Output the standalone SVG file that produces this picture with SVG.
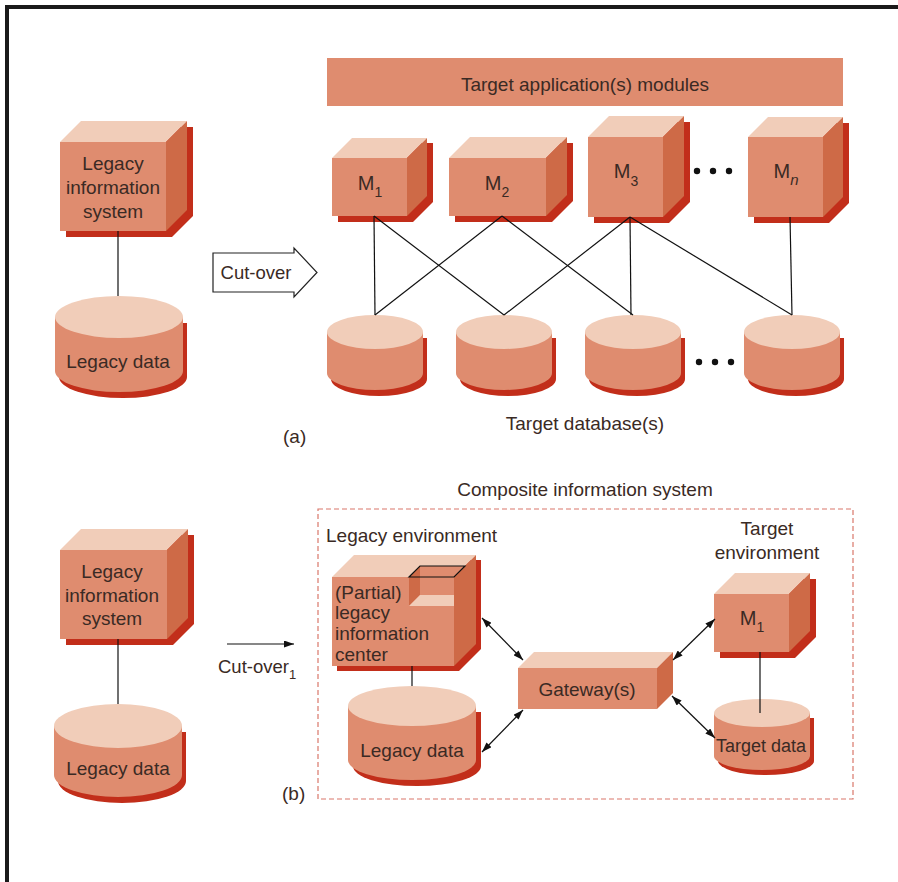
<svg xmlns="http://www.w3.org/2000/svg" width="898" height="882" viewBox="0 0 898 882">
<style>
text{font-family:"Liberation Sans",Arial,sans-serif;fill:#3a2a24;font-size:19px}
.front{fill:#DF8C6F}
.top{fill:#F1CDB9}
.side{fill:#CE6A47}
.shadow{fill:#C22E1A}
.ln{stroke:#111;stroke-width:1.2;fill:none}
.arr{stroke:#111;stroke-width:1.2;fill:none;marker-start:url(#ah);marker-end:url(#ah)}
.mid{text-anchor:middle}
.dot{fill:#111}
</style>
<defs>
<marker id="ah" viewBox="0 0 10 7" refX="10" refY="3.5" markerWidth="10" markerHeight="7" markerUnits="userSpaceOnUse" orient="auto-start-reverse">
<path d="M0,0 L10,3.5 L0,7 z" fill="#111"/>
</marker>
</defs>
<rect width="898" height="882" fill="#fff"/>
<path d="M7,882 V7 H898" fill="none" stroke="#1a1a1a" stroke-width="4"/>

<!-- (a) legacy information system -->
<g id="a-legacy-system">
<polygon class="shadow" points="66,148 87,127 193,127 193,216 172,237 66,237"/>
<rect class="front" x="60" y="142" width="106" height="89"/>
<polygon class="top" points="60,142 81,121 187,121 166,142"/>
<polygon class="side" points="166,142 187,121 187,210 166,231"/>
<text class="mid" x="113" y="170">Legacy</text>
<text class="mid" x="113" y="194">information</text>
<text class="mid" x="113" y="218">system</text>
</g>

<g id="a-legacy-data">
<path class="shadow" d="M59,323 V377 A64,21 0 0 0 187,377 V323 Z"/>
<path class="front" d="M55,317 V371 A64,21 0 0 0 183,371 V317 Z"/>
<ellipse class="top" cx="119" cy="317" rx="64" ry="21"/>
<text class="mid" x="118" y="368">Legacy data</text>
</g>

<g id="a-cutover">
<path d="M213,253 H294 V248 L317,272.5 L294,297 V292 H213 Z" fill="#fff" stroke="#222" stroke-width="1.2"/>
<text class="mid" x="256" y="279" style="font-size:18.5px">Cut-over</text>
</g>

<g id="a-target-modules">
<rect class="front" x="327" y="58" width="516" height="48"/>
<text class="mid" x="585" y="91">Target application(s) modules</text>
</g>

<g id="a-m1">
<polygon class="shadow" points="338,164 358,143 433,143 433,202 413,222 338,222"/>
<rect class="front" x="332" y="158" width="75" height="58"/>
<polygon class="top" points="332,158 352,138 427,138 407,158"/>
<polygon class="side" points="407,158 427,138 427,196 407,216"/>
<text class="mid" x="370" y="190" style="font-size:20px">M<tspan dy="7" style="font-size:14px">1</tspan></text>
</g>

<g id="a-m2">
<polygon class="shadow" points="455,164 476,143 573,143 573,201 552,222 455,222"/>
<rect class="front" x="449" y="158" width="97" height="58"/>
<polygon class="top" points="449,158 470,137 567,137 546,158"/>
<polygon class="side" points="546,158 567,137 567,195 546,216"/>
<text class="mid" x="497" y="190" style="font-size:20px">M<tspan dy="7" style="font-size:14px">2</tspan></text>
</g>

<g id="a-m3">
<polygon class="shadow" points="594,143 615,122 690,122 690,202 669,223 594,223"/>
<rect class="front" x="588" y="137" width="75" height="80"/>
<polygon class="top" points="588,137 609,116 684,116 663,137"/>
<polygon class="side" points="663,137 684,116 684,196 663,217"/>
<text class="mid" x="626" y="178" style="font-size:20px">M<tspan dy="8" style="font-size:14px">3</tspan></text>
</g>

<g id="a-mn">
<polygon class="shadow" points="754,143 774,123 849,123 849,203 829,223 754,223"/>
<rect class="front" x="748" y="137" width="75" height="80"/>
<polygon class="top" points="748,137 768,117 843,117 823,137"/>
<polygon class="side" points="823,137 843,117 843,197 823,217"/>
<text class="mid" x="786" y="178" style="font-size:20px">M<tspan dy="7" style="font-size:15px;font-style:italic">n</tspan></text>
</g>

<g id="a-dots-top">
<circle class="dot" cx="697" cy="171" r="3.2"/>
<circle class="dot" cx="713" cy="171" r="3.2"/>
<circle class="dot" cx="729" cy="171" r="3.2"/>
</g>

<g id="a-db1">
<path class="shadow" d="M331,338 V379 A48,17 0 0 0 427,379 V338 Z"/>
<path class="front" d="M327,332 V373 A48,17 0 0 0 423,373 V332 Z"/>
<ellipse class="top" cx="375" cy="332" rx="48" ry="17"/>
</g>
<g id="a-db2">
<path class="shadow" d="M460,338 V379 A48,17 0 0 0 556,379 V338 Z"/>
<path class="front" d="M456,332 V373 A48,17 0 0 0 552,373 V332 Z"/>
<ellipse class="top" cx="504" cy="332" rx="48" ry="17"/>
</g>
<g id="a-db3">
<path class="shadow" d="M589,338 V379 A48,17 0 0 0 685,379 V338 Z"/>
<path class="front" d="M585,332 V373 A48,17 0 0 0 681,373 V332 Z"/>
<ellipse class="top" cx="633" cy="332" rx="48" ry="17"/>
</g>
<g id="a-db4">
<path class="shadow" d="M748,338 V379 A48,17 0 0 0 844,379 V338 Z"/>
<path class="front" d="M744,332 V373 A48,17 0 0 0 840,373 V332 Z"/>
<ellipse class="top" cx="792" cy="332" rx="48" ry="17"/>
</g>

<g id="a-dots-bottom">
<circle class="dot" cx="699" cy="362" r="3.2"/>
<circle class="dot" cx="715" cy="362" r="3.2"/>
<circle class="dot" cx="731" cy="362" r="3.2"/>
</g>

<g id="a-labels">
<text class="mid" x="585" y="430">Target database(s)</text>
<text x="283" y="443">(a)</text>
</g>

<!-- (b) -->
<g id="b-composite">
<text class="mid" x="585" y="496">Composite information system</text>
<rect x="318" y="509" width="535" height="290" fill="none" stroke="#D9776A" stroke-width="1.2" stroke-dasharray="5,3"/>
<text x="326" y="542">Legacy environment</text>
<text class="mid" x="767" y="535">Target</text>
<text class="mid" x="767" y="559">environment</text>
<text x="282" y="800">(b)</text>
</g>

<g id="b-legacy-system">
<polygon class="shadow" points="66,556 87,535 194,535 194,624 173,645 66,645"/>
<rect class="front" x="60" y="550" width="107" height="89"/>
<polygon class="top" points="60,550 81,529 188,529 167,550"/>
<polygon class="side" points="167,550 188,529 188,618 167,639"/>
<text class="mid" x="112" y="578">Legacy</text>
<text class="mid" x="112" y="602">information</text>
<text class="mid" x="112" y="625">system</text>
</g>

<g id="b-legacy-data">
<path class="shadow" d="M58,732 V781 A64,22 0 0 0 186,781 V732 Z"/>
<path class="front" d="M54,726 V775 A64,22 0 0 0 182,775 V726 Z"/>
<ellipse class="top" cx="118" cy="726" rx="64" ry="22"/>
<text class="mid" x="118" y="775">Legacy data</text>
</g>

<g id="b-cutover">
<line class="ln" x1="227" y1="644" x2="294" y2="644" marker-end="url(#ah)"/>
<text x="218" y="673" style="font-size:18.5px">Cut-over<tspan dy="6" style="font-size:13px">1</tspan></text>
</g>

<g id="b-legacy-center">
<polygon class="shadow" points="337,582 359,560 481,560 481,649 459,671 337,671"/>
<rect class="front" x="332" y="577" width="122" height="89"/>
<polygon class="top" points="332,577 354,555 476,555 454,577"/>
<polygon class="side" points="454,577 476,555 476,644 454,666"/>
<polygon class="front" points="420,566 465,566 454,577 454,595 420,595"/>
<polygon class="side" points="409,577 420,566 420,595 409,606"/>
<polygon class="top" points="409,606 420,595 454,595 454,606"/>
<polygon points="409,577 420,566 465,566 454,577" fill="none" stroke="#111" stroke-width="1.2"/>
<text x="335" y="599">(Partial)</text>
<text x="335" y="619">legacy</text>
<text x="335" y="640">information</text>
<text x="335" y="661">center</text>
</g>

<g id="b-legacy-data2">
<path class="shadow" d="M353,712 V766 A64,20 0 0 0 481,766 V712 Z"/>
<path class="front" d="M348,706 V760 A64,20 0 0 0 476,760 V706 Z"/>
<ellipse class="top" cx="412" cy="706" rx="64" ry="20"/>
<text class="mid" x="412" y="757">Legacy data</text>
</g>

<g id="b-gateway">
<rect class="front" x="518" y="668" width="139" height="41"/>
<polygon class="top" points="518,668 534,652 673,652 657,668"/>
<polygon class="side" points="657,668 673,652 673,693 657,709"/>
<text class="mid" x="587" y="696">Gateway(s)</text>
</g>

<g id="b-m1">
<polygon class="shadow" points="720,600 741,579 816,579 816,637 795,658 720,658"/>
<rect class="front" x="714" y="594" width="75" height="58"/>
<polygon class="top" points="714,594 735,573 810,573 789,594"/>
<polygon class="side" points="789,594 810,573 810,631 789,652"/>
<text class="mid" x="752" y="625" style="font-size:20px">M<tspan dy="7" style="font-size:14px">1</tspan></text>
</g>

<g id="b-target-data">
<path class="shadow" d="M718,718 V761 A48,14 0 0 0 814,761 V718 Z"/>
<path class="front" d="M714,713 V756 A48,14 0 0 0 810,756 V713 Z"/>
<ellipse class="top" cx="762" cy="713" rx="48" ry="14"/>
<text class="mid" x="761" y="752" style="font-size:18px">Target data</text>
</g>

<g id="connectors">
<line class="ln" x1="118" y1="231" x2="118" y2="296"/>
<line class="ln" x1="374" y1="216" x2="375" y2="315"/>
<line class="ln" x1="374" y1="216" x2="504" y2="315"/>
<line class="ln" x1="502" y1="216" x2="375" y2="315"/>
<line class="ln" x1="502" y1="216" x2="633" y2="315"/>
<line class="ln" x1="630" y1="217" x2="504" y2="315"/>
<line class="ln" x1="630" y1="217" x2="631" y2="315"/>
<line class="ln" x1="630" y1="217" x2="792" y2="315"/>
<line class="ln" x1="790" y1="217" x2="792" y2="315"/>
<line class="ln" x1="118" y1="639" x2="118" y2="704"/>
<line class="ln" x1="412" y1="666" x2="412" y2="686"/>
<line class="ln" x1="760" y1="652" x2="760" y2="713"/>
<line class="arr" x1="482" y1="618" x2="523" y2="660"/>
<line class="arr" x1="482" y1="752" x2="523" y2="710"/>
<line class="arr" x1="673" y1="660" x2="715" y2="619"/>
<line class="arr" x1="672" y1="696" x2="715" y2="738"/>
</g>
</svg>
